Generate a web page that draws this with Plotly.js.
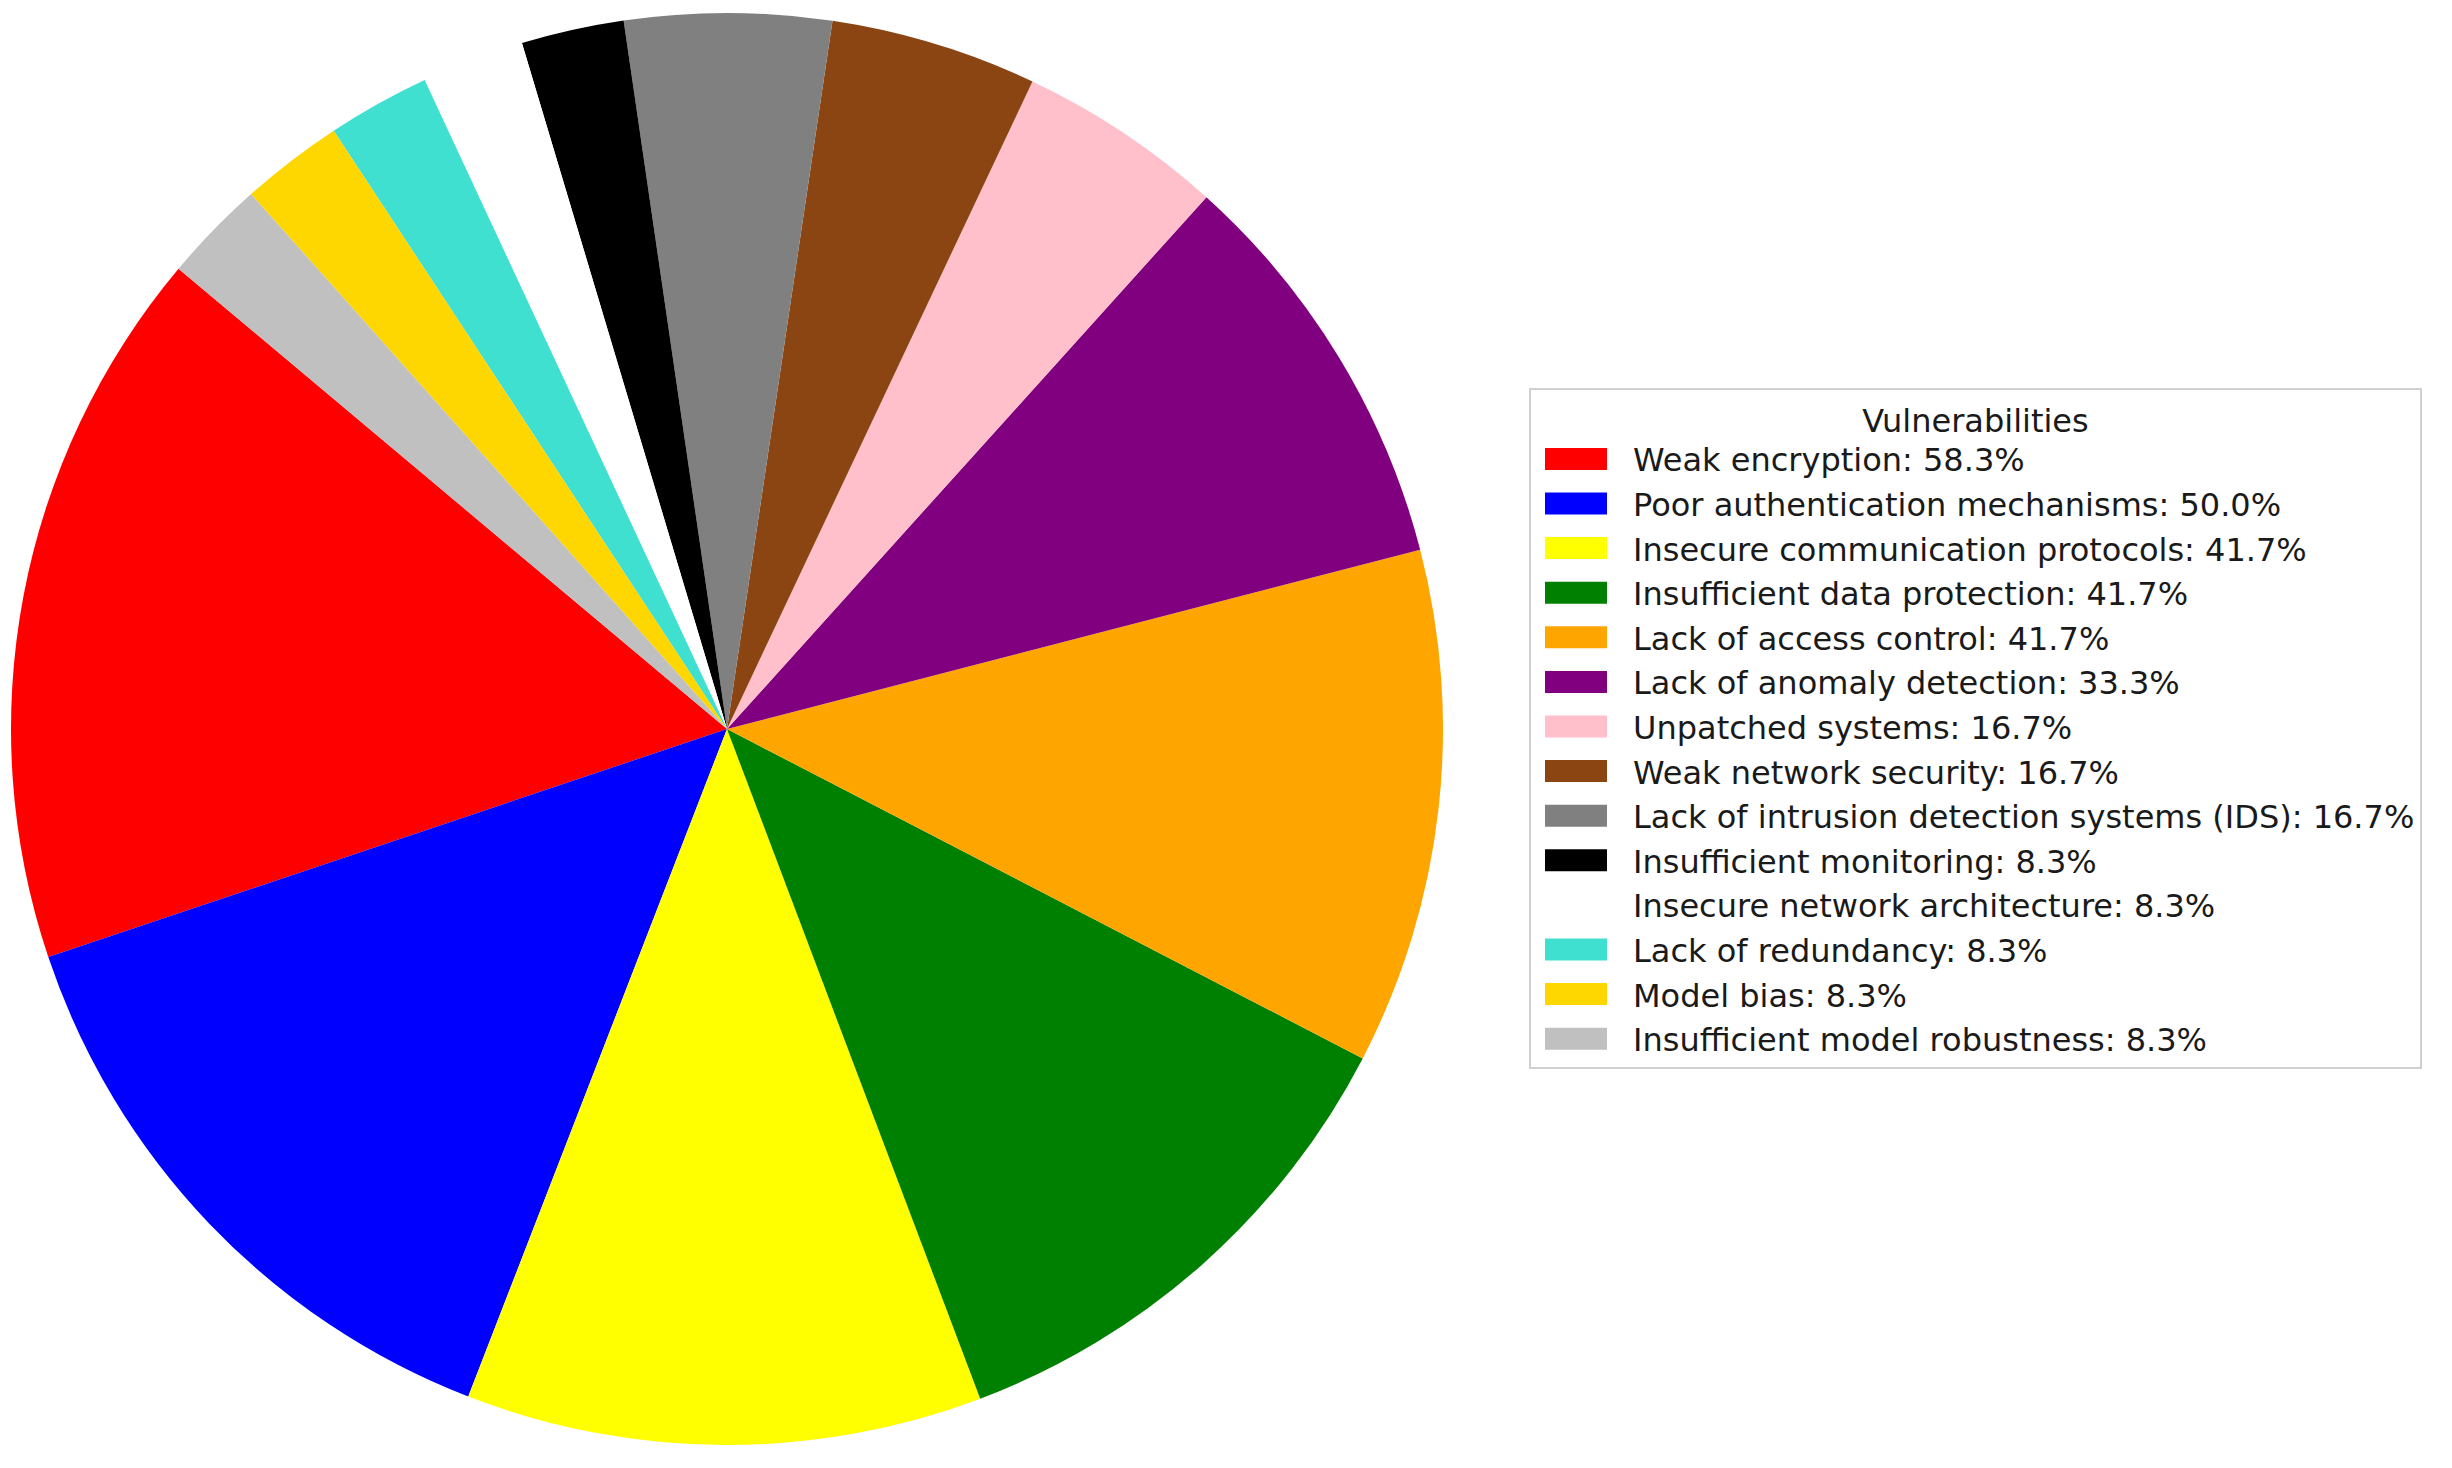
<!DOCTYPE html>
<html>
<head>
<meta charset="utf-8">
<script src="https://cdn.plot.ly/plotly-3.0.1.min.js"></script>
<style>
  html, body { margin: 0; padding: 0; background: #ffffff; }
  #chart { width: 2452px; height: 1468px; }
</style>
</head>
<body>
<div id="chart"></div>
<script>
const categories = [
  "Weak encryption",
  "Poor authentication mechanisms",
  "Insecure communication protocols",
  "Insufficient data protection",
  "Lack of access control",
  "Lack of anomaly detection",
  "Unpatched systems",
  "Weak network security",
  "Lack of intrusion detection systems (IDS)",
  "Insufficient monitoring",
  "Insecure network architecture",
  "Lack of redundancy",
  "Model bias",
  "Insufficient model robustness"
];
const percentages = [58.3, 50.0, 41.7, 41.7, 41.7, 33.3, 16.7, 16.7, 16.7, 8.3, 8.3, 8.3, 8.3, 8.3];
const sliceColors = [
  "#FF0000", "#0000FF", "#FFFF00", "#008000", "#FFA500", "#800080", "#FFC0CB",
  "#8B4513", "#808080", "#000000", "#FFFFFF", "#40E0D0", "#FFD700", "#C0C0C0"
];
const legendTitle = "Vulnerabilities";

const labels = categories.map((c, i) => c + ": " + percentages[i].toFixed(1) + "%");
const total = percentages.reduce((a, b) => a + b, 0);
// first slice starts at 140 degrees (counterclockwise from 3 o'clock), like matplotlib startangle=140
const startAngle = 140;
const rotation = (90 - startAngle) - percentages[0] / total * 360;

const trace = {
  type: "pie",
  labels: labels,
  values: percentages,
  sort: false,
  direction: "counterclockwise",
  rotation: rotation,
  marker: { colors: sliceColors, line: { width: 0 } },
  textinfo: "none",
  hoverinfo: "label",
  domain: { x: [11 / 2452, 1443 / 2452], y: [1 - 1445 / 1468, 1 - 13 / 1468] }
};

const layout = {
  width: 2452,
  height: 1468,
  margin: { l: 0, r: 0, t: 0, b: 0 },
  paper_bgcolor: "#ffffff",
  font: { family: "DejaVu Sans", color: "#1a1a1a" },
  showlegend: true,
  legend: {
    x: 1529 / 2452,
    xanchor: "left",
    y: 1 - 388 / 1468,
    yanchor: "top",
    bgcolor: "#ffffff",
    bordercolor: "#d0d0d0",
    borderwidth: 2,
    itemwidth: 92,
    font: { family: "DejaVu Sans", size: 32, color: "#1a1a1a" },
    title: { text: legendTitle, side: "top center", font: { family: "DejaVu Sans", size: 32, color: "#1a1a1a" } },
    itemclick: false,
    itemdoubleclick: false
  }
};

Plotly.newPlot("chart", [trace], layout, { staticPlot: true, displayModeBar: false }).then(function (gd) {
  // enlarge the legend swatches to matplotlib-like rectangles
  gd.querySelectorAll(".legendpoints path").forEach(function (p) {
    p.setAttribute("d", "M-37,-11H25V11H-37Z");
  });
});
</script>
</body>
</html>
